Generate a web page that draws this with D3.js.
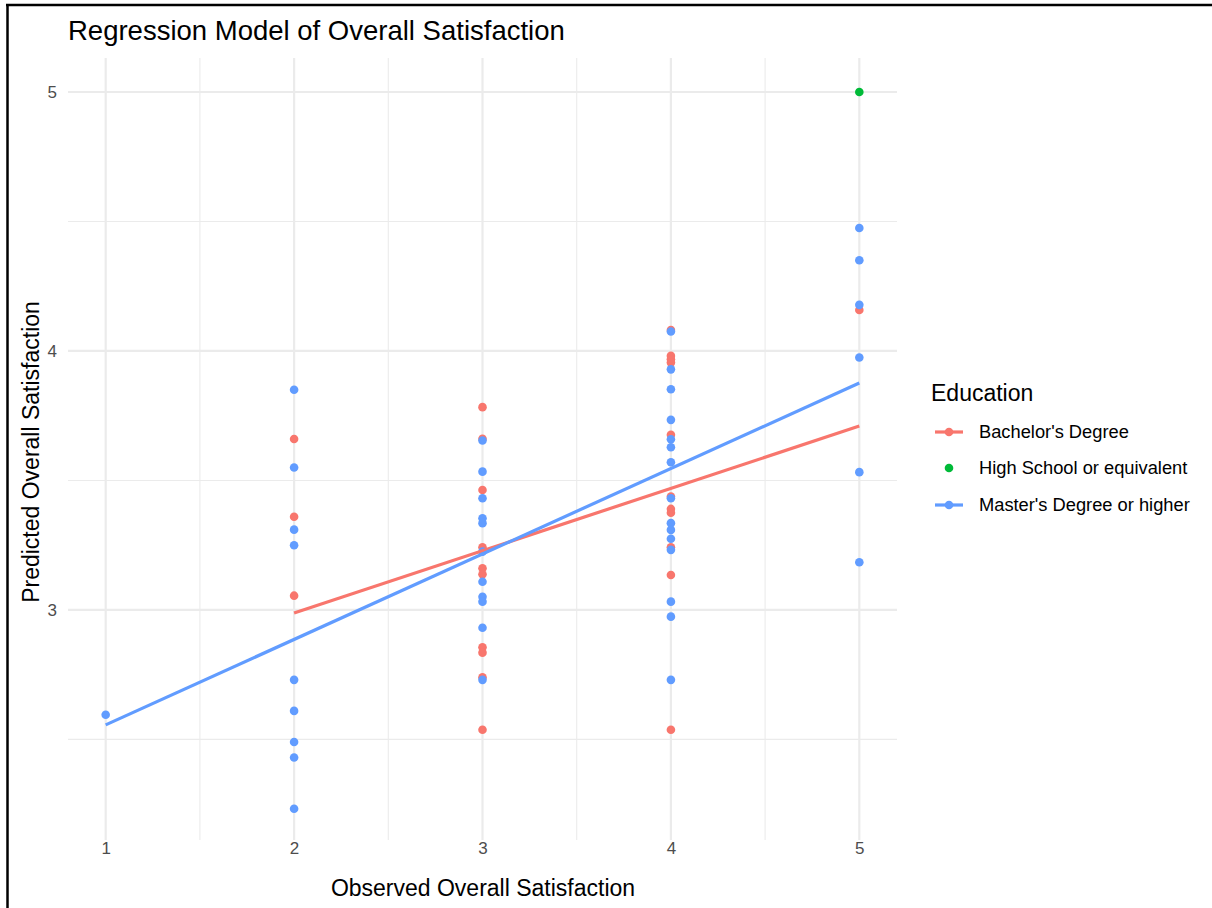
<!DOCTYPE html>
<html>
<head>
<meta charset="utf-8">
<script src="https://cdn.jsdelivr.net/npm/d3@7"></script>
<style>
  body { margin: 0; background: #fff; }
  text { font-family: "Liberation Sans", Arial, sans-serif; }
</style>
</head>
<body>
<div id="chart"></div>
<script>
// observed / predicted pairs
const bachelorX = [2, 2, 2,
    3, 3, 3, 3, 3, 3, 3, 3, 3, 3,
    4, 4, 4, 4, 4, 4, 4, 4, 4, 4, 4,
    5]
const bachelorY = [3.66, 3.36, 3.055,
    3.783, 3.661, 3.463, 3.242, 3.161, 3.138, 2.856, 2.835, 2.740, 2.537,
    4.081, 3.981, 3.968, 3.955, 3.676, 3.438, 3.390, 3.375, 3.242, 3.135, 2.537,
    4.158]

const masterX = [1,
    2, 2, 2, 2, 2, 2, 2, 2, 2,
    3, 3, 3, 3, 3, 3, 3, 3, 3, 3, 3,
    4, 4, 4, 4, 4, 4, 4, 4, 4, 4, 4, 4, 4, 4, 4,
    5, 5, 5, 5, 5, 5]
const masterY = [2.595,
    3.85, 3.55, 3.31, 3.25, 2.73, 2.61, 2.49, 2.43, 2.232,
    3.654, 3.534, 3.431, 3.354, 3.335, 3.225, 3.109, 3.051, 3.032, 2.931, 2.730,
    4.075, 3.929, 3.852, 3.734, 3.659, 3.628, 3.570, 3.431, 3.335, 3.309, 3.275, 3.232, 3.032, 2.974, 2.730,
    4.475, 4.35, 4.178, 3.975, 3.532, 3.184]

const highSchoolX = [5]
const highSchoolY = [5.0]

// fitted lm lines (ends)
const bachelorFitX = [2, 5]
const bachelorFitY = [2.988, 3.710]
const masterFitX = [1, 5]
const masterFitY = [2.556, 3.876]

const groups = ["Bachelor's Degree", "High School or equivalent", "Master's Degree or higher"]
const colors = ["#F8766D", "#00BA38", "#619CFF"]

const xTicks = [1, 2, 3, 4, 5]
const yTicks = [3, 4, 5]

const W = 1212, H = 908

const svg = d3.select("#chart").append("svg")
    .attr("width", W)
    .attr("height", H)

svg.append("rect").attr("width", W).attr("height", H).attr("fill", "#fff")

// screenshot frame
svg.append("line").attr("x1", 7.5).attr("x2", 7.5).attr("y1", 4).attr("y2", H)
    .attr("stroke", "#000").attr("stroke-width", 2.5)
svg.append("line").attr("x1", 6).attr("x2", W).attr("y1", 5).attr("y2", 5)
    .attr("stroke", "#000").attr("stroke-width", 2.5)

const panel = { left: 68, right: 897, top: 58, bottom: 840 }

const x = d3.scaleLinear().domain([0.8, 5.2]).range([panel.left, panel.right])
const y = d3.scaleLinear().domain([2.1115, 5.1313]).range([panel.bottom, panel.top])

const grid = svg.append("g")

// minor grid
const xMinor = [1.5, 2.5, 3.5, 4.5]
const yMinor = [2.5, 3.5, 4.5]
grid.selectAll(".xminor").data(xMinor).join("line")
    .attr("x1", d => x(d)).attr("x2", d => x(d))
    .attr("y1", panel.top).attr("y2", panel.bottom)
    .attr("stroke", "#EBEBEB").attr("stroke-width", 1.1)
grid.selectAll(".yminor").data(yMinor).join("line")
    .attr("y1", d => y(d)).attr("y2", d => y(d))
    .attr("x1", panel.left).attr("x2", panel.right)
    .attr("stroke", "#EBEBEB").attr("stroke-width", 1.1)

// major grid
grid.selectAll(".xmajor").data(xTicks).join("line")
    .attr("x1", d => x(d)).attr("x2", d => x(d))
    .attr("y1", panel.top).attr("y2", panel.bottom)
    .attr("stroke", "#EBEBEB").attr("stroke-width", 2.2)
grid.selectAll(".ymajor").data(yTicks).join("line")
    .attr("y1", d => y(d)).attr("y2", d => y(d))
    .attr("x1", panel.left).attr("x2", panel.right)
    .attr("stroke", "#EBEBEB").attr("stroke-width", 2.2)

// axes (labels only, theme_minimal has no axis lines)
const xAxis = svg.append("g")
    .attr("transform", `translate(0, ${panel.bottom})`)
    .call(d3.axisBottom(x).tickValues(xTicks).tickFormat(d3.format("d")).tickSize(0).tickPadding(2))
xAxis.select(".domain").remove()
xAxis.selectAll("text").style("font-size", "17px").attr("fill", "#4D4D4D")

const yAxis = svg.append("g")
    .attr("transform", `translate(${panel.left}, 0)`)
    .call(d3.axisLeft(y).tickValues(yTicks).tickFormat(d3.format("d")).tickSize(0).tickPadding(11))
yAxis.select(".domain").remove()
yAxis.selectAll("text").style("font-size", "17px").attr("fill", "#4D4D4D")

// points
function pts(xs, ys) { return xs.map((d, i) => ({ x: d, y: ys[i] })) }

const pointSets = [pts(bachelorX, bachelorY), pts(highSchoolX, highSchoolY), pts(masterX, masterY)]
const drawOrder = [0, 2, 1]
drawOrder.forEach(gi => {
    svg.append("g").selectAll("circle")
        .data(pointSets[gi])
        .join("circle")
        .attr("cx", d => x(d.x))
        .attr("cy", d => y(d.y))
        .attr("r", 4.3)
        .attr("fill", colors[gi])
})

// regression lines
const line = d3.line().x(d => x(d.x)).y(d => y(d.y))
svg.append("path").datum(pts(bachelorFitX, bachelorFitY))
    .attr("d", line).attr("fill", "none")
    .attr("stroke", colors[0]).attr("stroke-width", 3.2)
svg.append("path").datum(pts(masterFitX, masterFitY))
    .attr("d", line).attr("fill", "none")
    .attr("stroke", colors[2]).attr("stroke-width", 3.2)

// titles
svg.append("text").attr("x", 68).attr("y", 40)
    .style("font-size", "27.5px").attr("fill", "#000")
    .text("Regression Model of Overall Satisfaction")

svg.append("text").attr("x", (panel.left + panel.right) / 2 + 0.5).attr("y", 896)
    .attr("text-anchor", "middle").style("font-size", "23px").attr("fill", "#000")
    .text("Observed Overall Satisfaction")

svg.append("text")
    .attr("transform", `translate(39, ${(panel.top + panel.bottom) / 2 + 3}) rotate(-90)`)
    .attr("text-anchor", "middle").style("font-size", "23px").attr("fill", "#000")
    .text("Predicted Overall Satisfaction")

// legend
const legend = svg.append("g").attr("transform", "translate(931, 0)")
legend.append("text").attr("x", 0).attr("y", 401)
    .style("font-size", "23px").attr("fill", "#000").text("Education")

const rowY = [432, 468, 505]
groups.forEach((g, i) => {
    const row = legend.append("g").attr("transform", `translate(0, ${rowY[i]})`)
    if (i !== 1) {
        row.append("line").attr("x1", 4).attr("x2", 32).attr("y1", 0).attr("y2", 0)
            .attr("stroke", colors[i]).attr("stroke-width", 3.2)
    }
    row.append("circle").attr("cx", 18).attr("cy", 0).attr("r", 4.3).attr("fill", colors[i])
    row.append("text").attr("x", 48).attr("y", 0).attr("dy", "0.35em")
        .style("font-size", "18.3px").attr("fill", "#000").text(g)
})
</script>
</body>
</html>
